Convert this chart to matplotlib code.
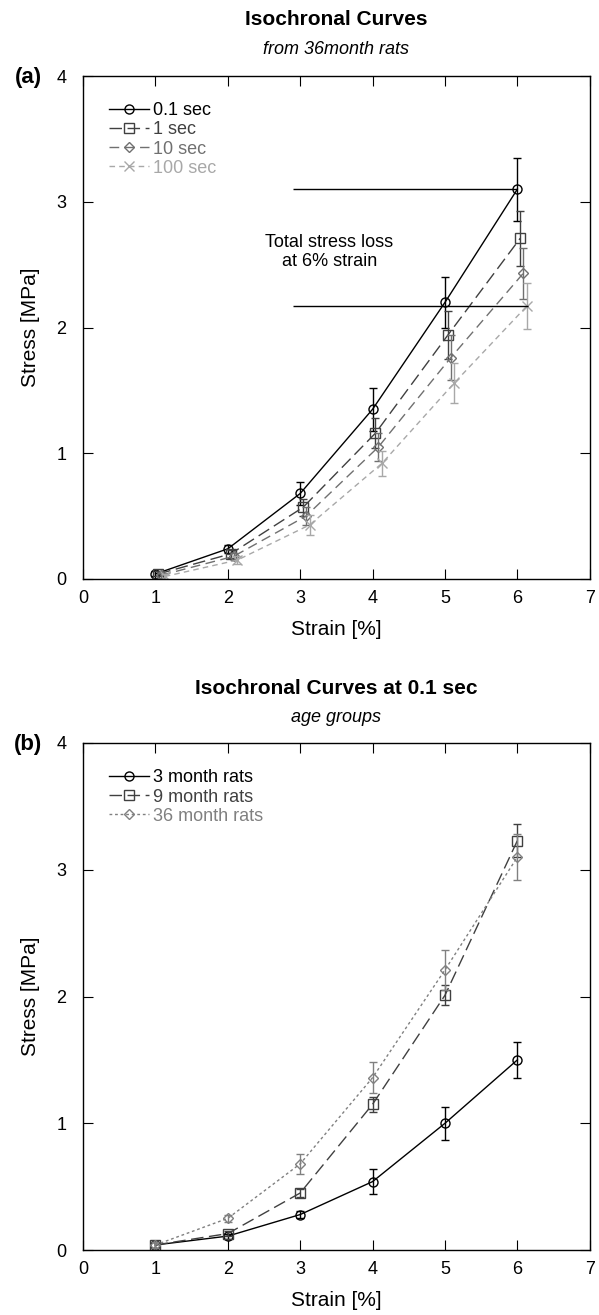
import numpy as np
import matplotlib
matplotlib.use('Agg')
import matplotlib.pyplot as plt

plt.rcParams['font.family'] = ['Liberation Sans', 'DejaVu Sans']

# strain levels [%]
strain = [1, 2, 3, 4, 5, 6]

# panel (a): isochronal curves, 36 month rats
a_labels = ['0.1 sec', '1 sec', '10 sec', '100 sec']
a_stress = [[0.04, 0.24, 0.68, 1.35, 2.20, 3.10],
            [0.04, 0.20, 0.57, 1.16, 1.94, 2.71],
            [0.03, 0.18, 0.50, 1.05, 1.76, 2.43],
            [0.02, 0.15, 0.43, 0.92, 1.56, 2.17]]
a_err = [[0.02, 0.03, 0.09, 0.17, 0.20, 0.25],
         [0.02, 0.03, 0.07, 0.12, 0.19, 0.22],
         [0.02, 0.03, 0.07, 0.11, 0.18, 0.20],
         [0.02, 0.03, 0.08, 0.10, 0.16, 0.18]]
a_shift = [0.0, 0.04, 0.08, 0.13]
loss_top = 3.10
loss_bottom = 2.17

# panel (b): isochronal curves at 0.1 sec, age groups
b_labels = ['3 month rats', '9 month rats', '36 month rats']
b_stress = [[0.04, 0.11, 0.28, 0.54, 1.00, 1.50],
            [0.04, 0.13, 0.45, 1.15, 2.01, 3.23],
            [0.04, 0.25, 0.68, 1.36, 2.21, 3.10]]
b_err = [[0.02, 0.02, 0.03, 0.10, 0.13, 0.14],
         [0.02, 0.02, 0.03, 0.06, 0.08, 0.13],
         [0.02, 0.03, 0.08, 0.12, 0.16, 0.18]]

a_colors = ['black', '#404040', '#707070', '#a8a8a8']
a_ls = ['-', (0, (9, 4)), (0, (7, 4)), (0, (4, 3))]
a_mk = ['o', 's', 'D', 'x']
a_ms = [6.5, 6.5, 5, 6.5]

b_colors = ['black', '#404040', '#808080']
b_ls = ['-', (0, (9, 4)), (0, (2, 2))]
b_mk = ['o', 's', 'D']
b_ms = [6.5, 6.5, 5.5]

fig = plt.figure(figsize=(5.99, 13.15), dpi=100)
ax1 = fig.add_axes([0.1386, 0.5597, 0.846, 0.3825])
ax2 = fig.add_axes([0.1386, 0.0494, 0.846, 0.3856])

for i in range(4):
    x = np.array(strain) + a_shift[i]
    ax1.errorbar(x, a_stress[i], yerr=a_err[i], fmt='none', ecolor=a_colors[i],
                 elinewidth=1, capsize=3, capthick=1)
    ax1.plot(x, a_stress[i], color=a_colors[i], ls=a_ls[i], lw=1,
             marker=a_mk[i], ms=a_ms[i], mfc='none', mec=a_colors[i], label=a_labels[i])

ax1.hlines(loss_top, 2.9, 6.0, color='black', lw=1)
ax1.hlines(loss_bottom, 2.9, 6.15, color='black', lw=1)
ax1.text(3.4, 2.6, 'Total stress loss\nat 6% strain', ha='center', va='center', fontsize=13)

for i in range(3):
    ax2.errorbar(strain, b_stress[i], yerr=b_err[i], fmt='none', ecolor=b_colors[i],
                 elinewidth=1, capsize=3, capthick=1)
    ax2.plot(strain, b_stress[i], color=b_colors[i], ls=b_ls[i], lw=1,
             marker=b_mk[i], ms=b_ms[i], mfc='none', mec=b_colors[i], label=b_labels[i])

for ax in (ax1, ax2):
    ax.set_xlim(0, 7)
    ax.set_ylim(0, 4)
    ax.set_xticks(range(8))
    ax.set_yticks(range(5))
    ax.tick_params(direction='in', top=True, right=True, length=7, labelsize=13)
    ax.tick_params(axis='x', pad=8)
    ax.tick_params(axis='y', pad=12)
    ax.set_xlabel('Strain [%]', fontsize=15, labelpad=9)
    ax.set_ylabel('Stress [MPa]', fontsize=15, labelpad=12)
    for s in ax.spines.values():
        s.set_linewidth(1)
    ax.legend(loc='upper left', bbox_to_anchor=(0.02, 0.98), frameon=False, fontsize=13,
              handlelength=2.2, handletextpad=0.2, labelspacing=0.12, labelcolor='linecolor')

cx = 0.1386 + 0.846 / 2
fig.text(cx, 0.985, 'Isochronal Curves', ha='center', va='center', fontsize=15, fontweight='bold')
fig.text(cx, 0.962, 'from 36month rats', ha='center', va='center', fontsize=13, style='italic')
fig.text(0.047, 0.9407, '(a)', ha='center', va='center', fontsize=16, fontweight='bold')
fig.text(cx, 0.4768, 'Isochronal Curves at 0.1 sec', ha='center', va='center', fontsize=15, fontweight='bold')
fig.text(cx, 0.454, 'age groups', ha='center', va='center', fontsize=13, style='italic')
fig.text(0.047, 0.4335, '(b)', ha='center', va='center', fontsize=16, fontweight='bold')

fig.savefig('out.png', dpi=100)
